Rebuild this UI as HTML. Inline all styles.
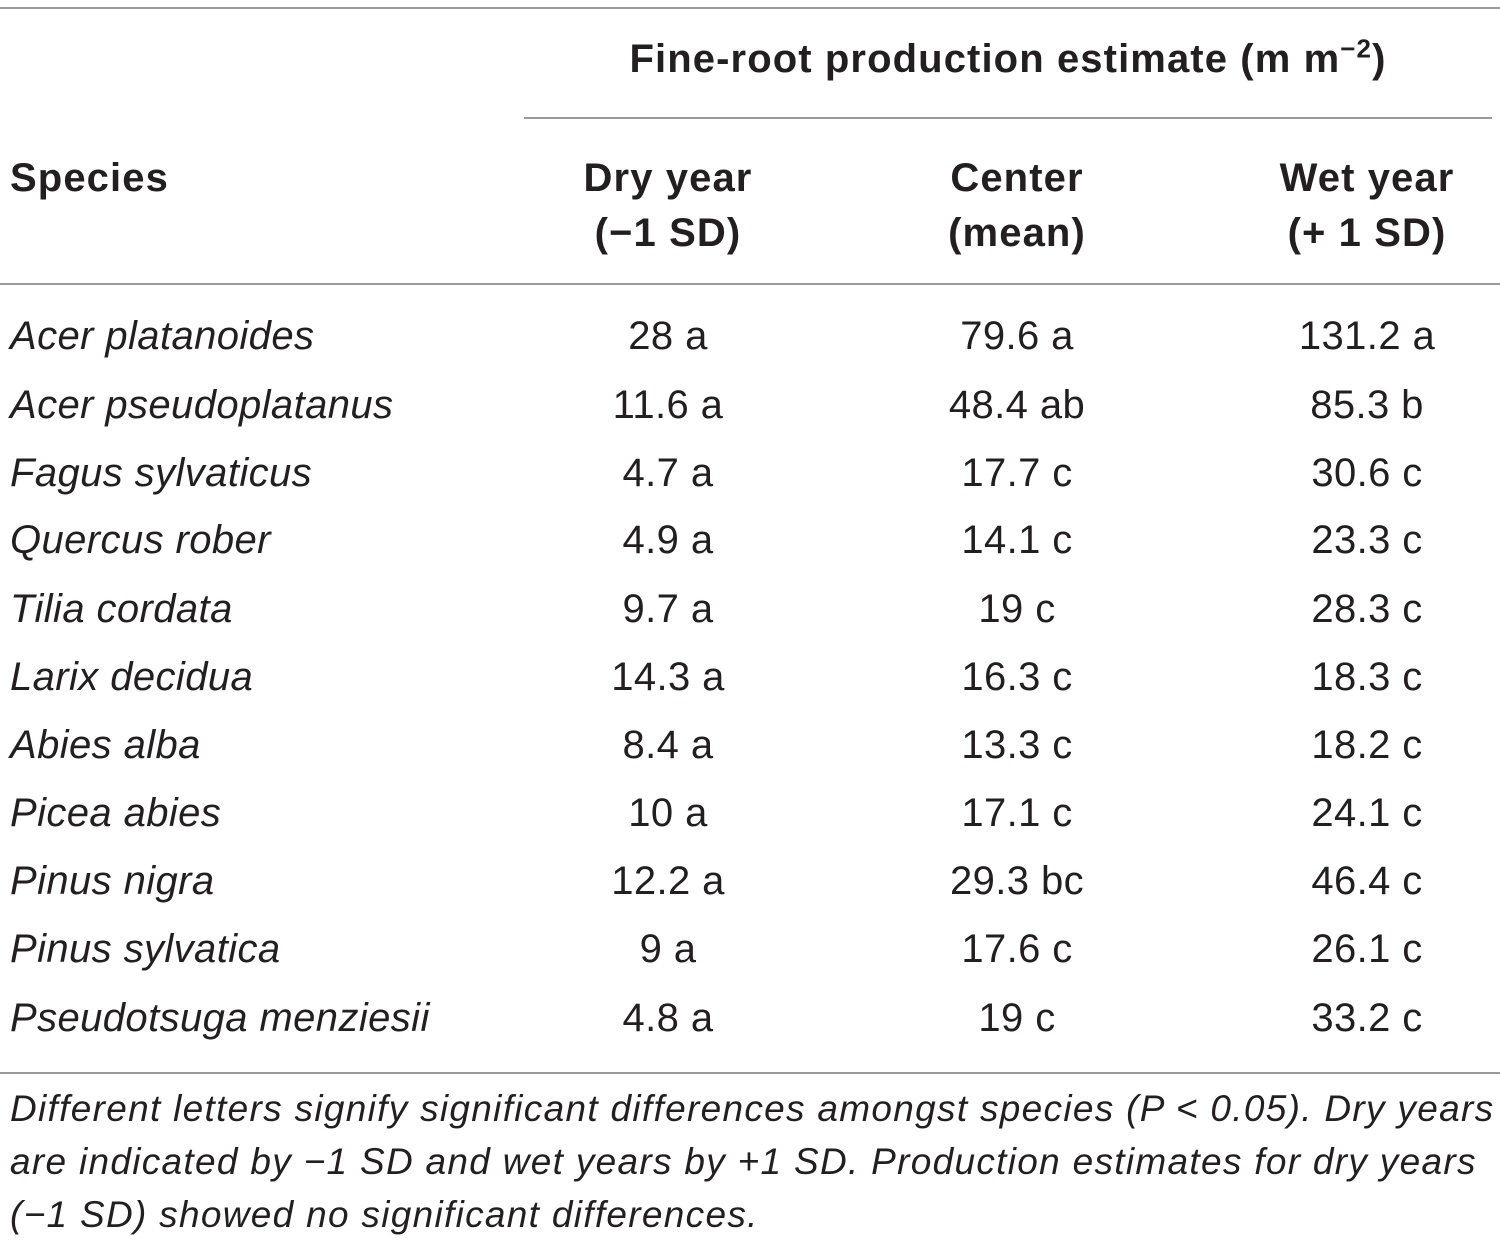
<!DOCTYPE html>
<html><head><meta charset="utf-8"><style>
body{margin:0;width:1500px;height:1245px;background:#fff;position:relative;overflow:hidden;font-family:"Liberation Sans",sans-serif;color:#231f20}
.t{position:absolute;height:50px;line-height:50px;font-size:40px;letter-spacing:0.4px;white-space:nowrap}
.c{transform:translateX(-50%)}
.b{font-weight:bold;letter-spacing:1.1px}
.i{font-style:italic}
.l{position:absolute;height:2px;background:#9a9a9a}
.f{position:absolute;left:10px;font-size:37px;letter-spacing:1.3px;font-style:italic;white-space:nowrap;height:50px;line-height:50px}
</style></head><body>
<div class="l" style="left:0;top:7px;width:1500px"></div>
<div class="l" style="left:524px;top:117px;width:968px"></div>
<div class="l" style="left:0;top:283px;width:1500px"></div>
<div class="l" style="left:0;top:1072px;width:1500px"></div>

<div class="t b c" style="left:1008px;top:34px">Fine-root production estimate (m m<sup style="font-size:26px;line-height:2px">−2</sup>)</div>
<div class="t b" style="left:10px;top:153px">Species</div>
<div class="t b c" style="left:668px;top:153px">Dry year</div>
<div class="t b c" style="left:668px;top:208px">(−1 SD)</div>
<div class="t b c" style="left:1017px;top:153px">Center</div>
<div class="t b c" style="left:1017px;top:208px">(mean)</div>
<div class="t b c" style="left:1367px;top:153px">Wet year</div>
<div class="t b c" style="left:1367px;top:208px">(+ 1 SD)</div>

<div class="t i" style="left:10px;top:311px">Acer platanoides</div><div class="t c" style="left:668px;top:311px">28 a</div><div class="t c" style="left:1017px;top:311px">79.6 a</div><div class="t c" style="left:1367px;top:311px">131.2 a</div>
<div class="t i" style="left:10px;top:380px">Acer pseudoplatanus</div><div class="t c" style="left:668px;top:380px">11.6 a</div><div class="t c" style="left:1017px;top:380px">48.4 ab</div><div class="t c" style="left:1367px;top:380px">85.3 b</div>
<div class="t i" style="left:10px;top:448px">Fagus sylvaticus</div><div class="t c" style="left:668px;top:448px">4.7 a</div><div class="t c" style="left:1017px;top:448px">17.7 c</div><div class="t c" style="left:1367px;top:448px">30.6 c</div>
<div class="t i" style="left:10px;top:515px">Quercus rober</div><div class="t c" style="left:668px;top:515px">4.9 a</div><div class="t c" style="left:1017px;top:515px">14.1 c</div><div class="t c" style="left:1367px;top:515px">23.3 c</div>
<div class="t i" style="left:10px;top:584px">Tilia cordata</div><div class="t c" style="left:668px;top:584px">9.7 a</div><div class="t c" style="left:1017px;top:584px">19 c</div><div class="t c" style="left:1367px;top:584px">28.3 c</div>
<div class="t i" style="left:10px;top:652px">Larix decidua</div><div class="t c" style="left:668px;top:652px">14.3 a</div><div class="t c" style="left:1017px;top:652px">16.3 c</div><div class="t c" style="left:1367px;top:652px">18.3 c</div>
<div class="t i" style="left:10px;top:720px">Abies alba</div><div class="t c" style="left:668px;top:720px">8.4 a</div><div class="t c" style="left:1017px;top:720px">13.3 c</div><div class="t c" style="left:1367px;top:720px">18.2 c</div>
<div class="t i" style="left:10px;top:788px">Picea abies</div><div class="t c" style="left:668px;top:788px">10 a</div><div class="t c" style="left:1017px;top:788px">17.1 c</div><div class="t c" style="left:1367px;top:788px">24.1 c</div>
<div class="t i" style="left:10px;top:856px">Pinus nigra</div><div class="t c" style="left:668px;top:856px">12.2 a</div><div class="t c" style="left:1017px;top:856px">29.3 bc</div><div class="t c" style="left:1367px;top:856px">46.4 c</div>
<div class="t i" style="left:10px;top:924px">Pinus sylvatica</div><div class="t c" style="left:668px;top:924px">9 a</div><div class="t c" style="left:1017px;top:924px">17.6 c</div><div class="t c" style="left:1367px;top:924px">26.1 c</div>
<div class="t i" style="left:10px;top:993px">Pseudotsuga menziesii</div><div class="t c" style="left:668px;top:993px">4.8 a</div><div class="t c" style="left:1017px;top:993px">19 c</div><div class="t c" style="left:1367px;top:993px">33.2 c</div>

<div class="f" style="top:1084px">Different letters signify significant differences amongst species (P &lt; 0.05). Dry years</div>
<div class="f" style="top:1137px">are indicated by −1 SD and wet years by +1 SD. Production estimates for dry years</div>
<div class="f" style="top:1190px">(−1 SD) showed no significant differences.</div>
</body></html>
